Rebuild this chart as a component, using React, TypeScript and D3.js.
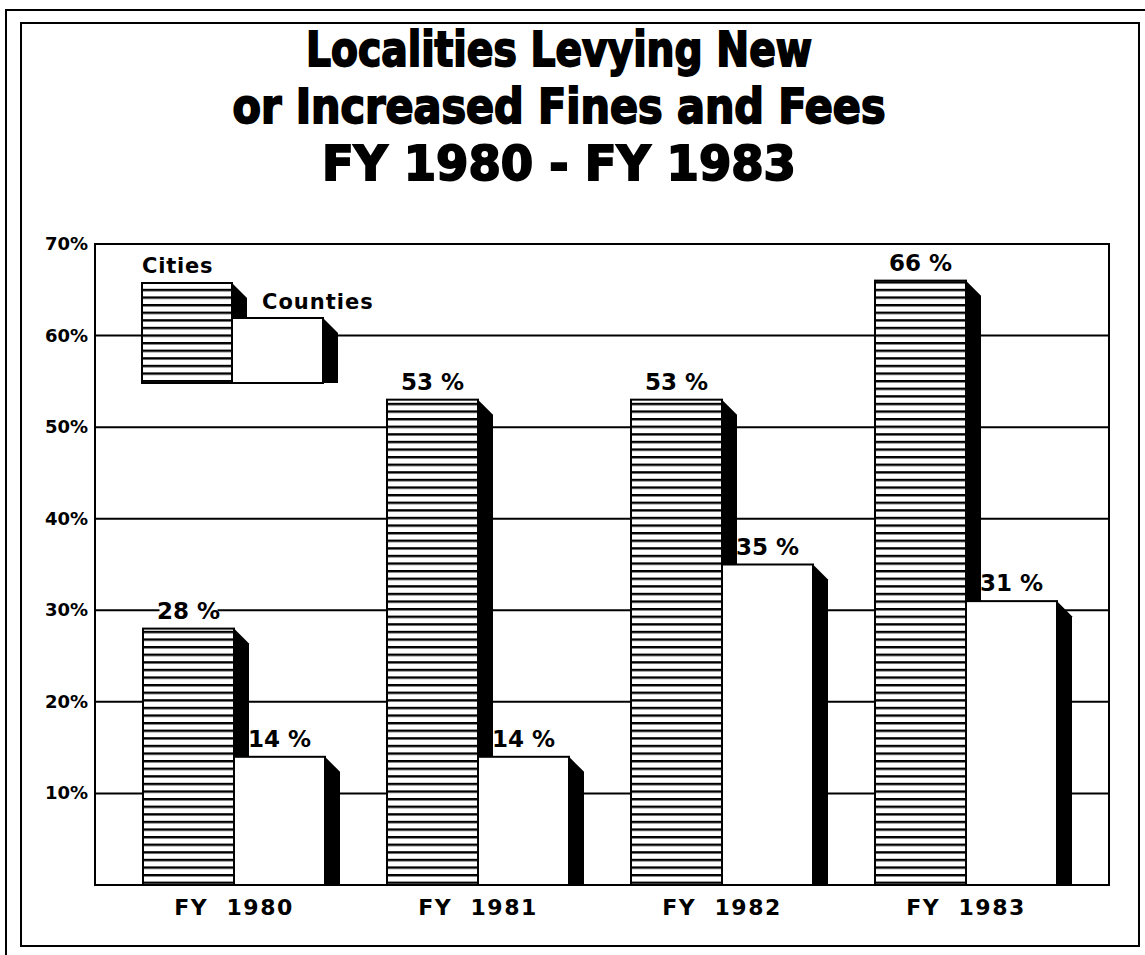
import React from "react";
import * as d3 from "d3";

const years = ["FY 1980", "FY 1981", "FY 1982", "FY 1983"];
const seriesNames = ["Cities", "Counties"];
const cities = [28, 53, 53, 66];
const counties = [14, 14, 35, 31];
const yTicks = [10, 20, 30, 40, 50, 60, 70];
const titleLines = ["Localities Levying New", "or Increased Fines and Fees", "FY 1980 - FY 1983"];

const W = 1145;
const H = 955;
const plot = { left: 95, right: 1109, top: 244, bottom: 885 };
const DEPTH = 15;
const labelFont = "'DejaVu Sans', 'Liberation Sans', sans-serif";
const titleFont = "'Liberation Sans Narrow', 'DejaVu Sans Condensed', 'Liberation Sans', sans-serif";

function Block({ x, w, top, bottom, hatch }) {
  const r = x + w;
  return (
    <g>
      <rect
        x={x}
        y={top}
        width={w}
        height={bottom - top}
        fill={hatch ? "url(#hatch)" : "#fff"}
        stroke="#000"
        strokeWidth={2}
      />
      <path
        d={`M${r},${top} L${r + DEPTH},${top + DEPTH} L${r + DEPTH},${bottom} L${r},${bottom} Z`}
        fill="#000"
      />
    </g>
  );
}

function ValueLabel({ cx, top, value }) {
  const txt = `${value} %`;
  const baseline = top - 10;
  return (
    <g>
      <rect x={cx - 29} y={baseline - 19} width={58} height={22} fill="#fff" />
      <text
        x={cx}
        y={baseline}
        textAnchor="middle"
        style={{ fontFamily: labelFont, fontWeight: "bold", fontSize: 23 }}
      >
        {txt}
      </text>
    </g>
  );
}

export default function App() {
  const x = d3.scaleBand().domain(years).range([143, 1119]).padding(0);
  const xs = d3.scaleBand().domain(seriesNames).range([0, 182]);
  const y = d3.scaleLinear().domain([0, 70]).range([plot.bottom, plot.top]);
  const bw = xs.bandwidth();

  const titleX = 559;
  const titleBase = [66, 123, 180];
  const titleLen = [506, 653, 474];

  return (
    <svg
      width={W}
      height={H}
      style={{ position: "absolute", left: 0, top: 0, background: "#fff" }}
    >
      <defs>
        <pattern id="hatch" patternUnits="userSpaceOnUse" width={10} height={7.6}>
          <rect width={10} height={7.6} fill="#fff" />
          <rect y={0} width={10} height={2.4} fill="#000" />
        </pattern>
      </defs>
      <rect width={W} height={H} fill="#fff" />

      {/* frames */}
      <path d={`M6,${H + 5} L6,10 L${W + 5},10`} fill="none" stroke="#000" strokeWidth={2} />
      <rect x={21} y={23} width={1118} height={923} fill="none" stroke="#000" strokeWidth={2} />

      {/* title */}
      {titleLines.map((t, i) => (
        <text
          key={t}
          x={titleX}
          y={titleBase[i]}
          textAnchor="middle"
          textLength={titleLen[i]}
          lengthAdjust="spacingAndGlyphs"
          stroke="#000"
          strokeWidth={1.8}
          style={{ fontFamily: titleFont, fontWeight: "bold", fontSize: 48 }}
        >
          {t}
        </text>
      ))}

      {/* grid */}
      {yTicks.map((t) => (
        <g key={t}>
          <line x1={plot.left} x2={plot.right} y1={y(t)} y2={y(t)} stroke="#000" strokeWidth={2} />
          <text
            x={88}
            y={y(t) + 6}
            textAnchor="end"
            style={{ fontFamily: labelFont, fontWeight: "bold", fontSize: 18 }}
          >
            {t}%
          </text>
        </g>
      ))}
      <rect
        x={plot.left}
        y={plot.top}
        width={plot.right - plot.left}
        height={plot.bottom - plot.top}
        fill="none"
        stroke="#000"
        strokeWidth={2}
      />

      {/* legend */}
      <g>
        <text
          x={142}
          y={273}
          letterSpacing={0.8}
          style={{ fontFamily: labelFont, fontWeight: "bold", fontSize: 21 }}
        >
          {seriesNames[0]}
        </text>
        <Block x={142} w={90} top={283} bottom={383} hatch />
        <Block x={232} w={91} top={318} bottom={383} hatch={false} />
        <text
          x={262}
          y={309}
          letterSpacing={1}
          style={{ fontFamily: labelFont, fontWeight: "bold", fontSize: 21 }}
        >
          {seriesNames[1]}
        </text>
      </g>

      {/* bars */}
      {years.map((yr, i) => {
        const gx = x(yr);
        const cx = gx + xs("Cities");
        const kx = gx + xs("Counties");
        return (
          <g key={yr}>
            <Block x={cx} w={bw} top={y(cities[i])} bottom={plot.bottom} hatch />
            <Block x={kx} w={bw} top={y(counties[i])} bottom={plot.bottom} hatch={false} />
            <ValueLabel cx={cx + bw / 2} top={y(cities[i])} value={cities[i]} />
            <ValueLabel cx={kx + bw / 2} top={y(counties[i])} value={counties[i]} />
            <text
              x={gx + bw}
              y={915}
              textAnchor="middle"
              letterSpacing={1.5}
              style={{ fontFamily: labelFont, fontWeight: "bold", fontSize: 22, whiteSpace: "pre" }}
            >
              {yr.replace(" ", "  ")}
            </text>
          </g>
        );
      })}
    </svg>
  );
}
